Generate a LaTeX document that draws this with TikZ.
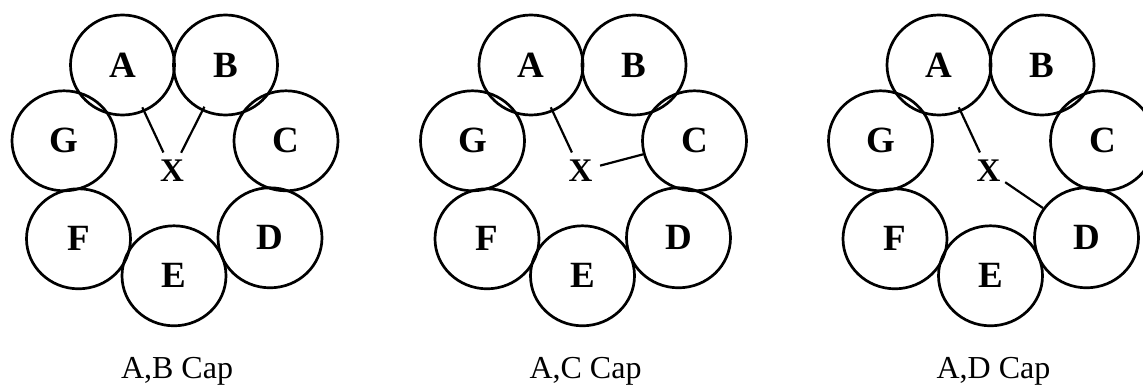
\documentclass[tikz,border=0pt]{standalone}
\usepackage{fontspec}
\setmainfont{Liberation Serif}
\usetikzlibrary{shapes.geometric}

% One ring of seven cells A--G around a hub X, with two links from X.
% #1 x of the ring centre, #2 name prefix, #3 second linked cell,
% #4 extra options of the second link, #5 caption
\newcommand\ringdiagram[5]{%
  \begin{scope}[shift={(#1,219.2)}]
    \node[cell] (#2A) at (-51.5, 101.8) {A};
    \node[cell] (#2B) at ( 51.5, 101.8) {B};
    \node[cell] (#2C) at ( 112,   26)   {C};
    \node[cell] (#2D) at (  96,  -71)   {D};
    \node[cell] (#2E) at (   0, -109)   {E};
    \node[cell] (#2F) at (-95.5, -72)   {F};
    \node[cell] (#2G) at (-110,   26)   {G};
    \node[hub]  (#2X) at (  -2,   -4)   {X};
    \draw[link, into] (#2X) -- (#2A);
    \draw[link, #4]   (#2X) -- (#2#3);
    \node[caption] (#2cap) at (3,-211.2) {#5};
  \end{scope}}

\begin{document}
\begin{tikzpicture}[x=1pt, y=1pt,
  cell/.style={draw, ellipse, line width=2.7pt, minimum width=104pt,
    minimum height=100pt, inner sep=0pt,
    font=\fontsize{37}{37}\selectfont\bfseries},
  hub/.style={circle, minimum size=40pt, inner sep=0pt,
    font=\fontsize{33}{33}\selectfont\bfseries},
  link/.style={line width=2.2pt},
  into/.style={shorten >=-5pt},
  plain/.style={},
  caption/.style={anchor=base, inner sep=0pt,
    font=\fontsize{32}{32}\selectfont}]
  \useasboundingbox (0,0) rectangle (1143,386);
  \ringdiagram{174}{p}{B}{into}{A,B Cap}
  \ringdiagram{582.5}{q}{C}{plain}{A,C Cap}
  \ringdiagram{990.5}{r}{D}{plain}{A,D Cap}
\end{tikzpicture}
\end{document}
